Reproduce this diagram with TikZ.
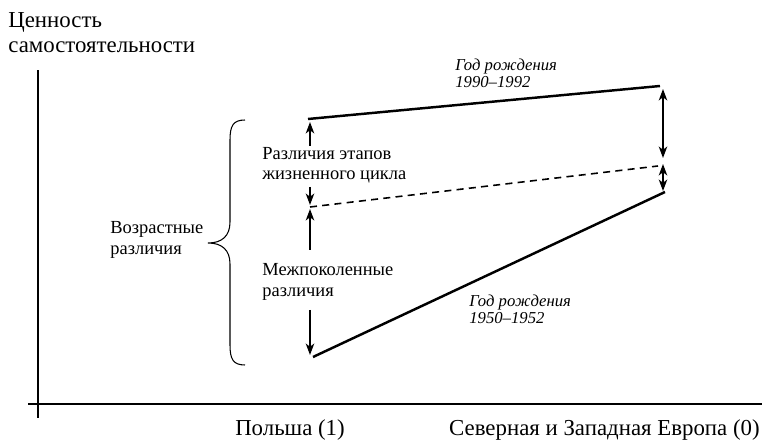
\documentclass[tikz,border=0pt]{standalone}
\usepackage{fontspec}
\setmainfont{Liberation Serif}
\usetikzlibrary{arrows.meta}

\tikzset{
  axis/.style={line width=0.6pt},
  cohort/.style={line width=1.4pt},
  gap/.style={line width=0.8pt, -{Stealth[length=6.5pt,width=4.8pt,inset=1.8pt]}},
  twogap/.style={line width=0.8pt, {Stealth[length=6.5pt,width=4.8pt,inset=1.8pt]}-{Stealth[length=6.5pt,width=4.8pt,inset=1.8pt]}},
  lbl/.style={font=\fontsize{10.5}{11.5}\selectfont, align=left, anchor=west, inner sep=0pt},
  year/.style={lbl, font=\fontsize{9.5}{9.8}\selectfont\itshape},
  big/.style={font=\fontsize{13}{14.2}\selectfont, align=left, inner sep=0pt},
}

\begin{document}
\begin{tikzpicture}[x=0.02cm,y=-0.02cm]
\useasboundingbox (0,0) rectangle (762,442);

        % axes
        \coordinate (x0) at (28,404);
        \coordinate (x1) at (762,404);
        \coordinate (y0) at (38,418);
        \coordinate (y1) at (38,70);
        \draw[axis] (x0) -- (x1);
        \draw[axis] (y0) -- (y1);

        % cohorts
        \coordinate (p1) at (308,119);
        \coordinate (e1) at (660,86);
        \coordinate (p2) at (310,207);
        \coordinate (e2) at (658,166);
        \coordinate (p3) at (313,357);
        \coordinate (e3) at (665,192);
        \draw[cohort] (p1) -- (e1);
        \draw[line width=0.9pt, dash pattern=on 4pt off 3pt] (p2) -- (e2);
        \draw[cohort] (p3) -- (e3);

        % left arrows
        \coordinate (a1) at (310,146);
        \coordinate (b1) at (310,122);
        \coordinate (a2) at (310,187);
        \coordinate (b2) at (310,205);
        \coordinate (a3) at (310,250);
        \coordinate (b3) at (310,209);
        \coordinate (a4) at (310,310);
        \coordinate (b4) at (310,355);
        \draw[gap] (a1) -- (b1);
        \draw[gap] (a2) -- (b2);
        \draw[gap] (a3) -- (b3);
        \draw[gap] (a4) -- (b4);

        % right arrows
        \coordinate (c1) at (663,89);
        \coordinate (c2) at (663,158);
        \coordinate (c3) at (663,164);
        \coordinate (c4) at (663,191);
        \draw[twogap] (c1) -- (c2);
        \draw[twogap] (c3) -- (c4);

        % brace
        \draw[axis] (245,120) .. controls (233,120) and (230,126) .. (230,140) -- (230,222) .. controls (230,236) and (222,243) .. (208,243) .. controls (222,243) and (230,250) .. (230,264) -- (230,345) .. controls (230,359) and (233,365) .. (245,365);

        \node[big, anchor=west] (v1) at (8,33) {Ценность\\самостоятельности};
        \node[lbl] (v2) at (262,165) {Различия этапов\\жизненного цикла};
        \node[lbl] (v3) at (262,282) {Межпоколенные\\различия};
        \node[lbl] (v4) at (110,240) {Возрастные\\различия};
        \node[year] (v5) at (455,73) {Год рождения\\1990--1992};
        \node[year] (v6) at (469,309) {Год рождения\\1950--1952};
        \node[big] (v7) at (290,430) {Польша (1)};
        \node[big, anchor=east] (v8) at (760,430) {Северная и Западная Европа (0)};
        \end{tikzpicture}
\end{document}
